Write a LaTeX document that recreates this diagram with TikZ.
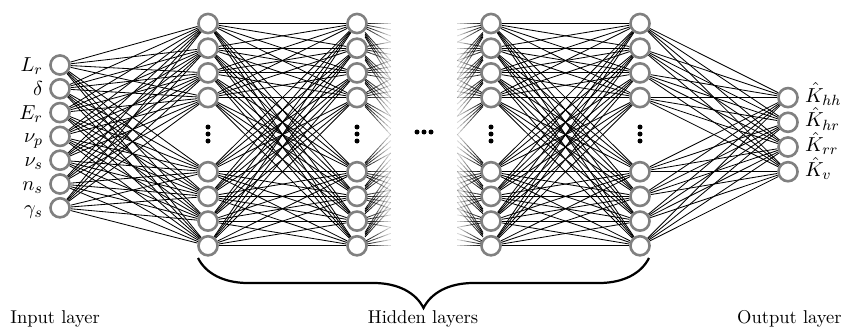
\documentclass[tikz,border=0pt]{standalone}
\usetikzlibrary{calc,backgrounds,decorations.pathreplacing}
\tikzset{
  neuron/.style={circle, draw=black!50, fill=white, line width=1.4pt, minimum size=10.3pt, inner sep=0pt},
  conn/.style={line width=0.45pt, draw=black},
  fadeconn/.style={line width=0.45pt, draw=black},
  lbl/.style={inner sep=0pt},
  mlbl/.style={inner sep=0pt, font=\fontsize{11}{12}\selectfont},
  bracestyle/.style={line width=1.2pt, decorate, decoration={brace, mirror, amplitude=27pt}},
}
\begin{document}
\begin{tikzpicture}[x=0.54pt,y=-0.54pt]
\useasboundingbox (0,0) rectangle (844,331);
% input layer
\foreach \i in {1,...,7} \node[neuron] (in\i) at (60,{65+23.8*(\i-1)}) {};
% hidden layers
\foreach \L/\x in {A/208,B/357,C/491,D/640} {
  \foreach \s in {0,1,2,3,6,7,8,9} \node[neuron] (\L\s) at (\x,{23.5+24.7*\s}) {};
  \foreach \d in {-7,0,7} \fill (\x,{134+\d}) circle (1.35pt);
}
% output layer
\foreach \o in {3,4,5,6} \node[neuron] (out\o) at (788,{23.5+24.7*\o}) {};
% middle dots
\foreach \x in {417,424,431} \fill (\x,132) circle (1.35pt);
% connections
\begin{scope}[on background layer]
\foreach \i in {1,...,7} \foreach \s in {0,1,2,3,6,7,8,9} \draw[conn] (in\i) -- (A\s);
\foreach \s in {0,1,2,3,6,7,8,9} \foreach \t in {0,1,2,3,6,7,8,9} {
  \draw[conn] (A\s) -- (B\t);
  \draw[conn] (C\s) -- (D\t);
}
\foreach \s in {0,1,2,3,6,7,8,9} \foreach \o in {3,4,5,6} \draw[conn] (D\s) -- (out\o);
\foreach \s in {0,1,2,3,6,7,8,9} \foreach \t in {0,1,2,3,6,7,8,9} \foreach \k in {0,...,7} {
  \pgfmathsetmacro\ta{0.06+0.024*\k}
  \pgfmathsetmacro\tb{0.06+0.024*(\k+1)}
  \pgfmathsetmacro\op{1-0.12*\k}
  \draw[fadeconn, draw opacity=\op] ($(B\s)!\ta!(C\t)$) -- ($(B\s)!\tb!(C\t)$);
  \draw[fadeconn, draw opacity=\op] ($(C\t)!\ta!(B\s)$) -- ($(C\t)!\tb!(B\s)$);
}
\end{scope}
% labels
\foreach \i/\lab in {1/L_r,2/\delta,3/E_r,4/\nu_p,5/\nu_s,6/n_s,7/\gamma_s}
  \node[mlbl, anchor=base east] (lin\i) at ([xshift=-3.2pt,yshift=-3.5pt]in\i.west) {$\lab$};
\foreach \o/\lab in {3/hh,4/hr,5/rr,6/v}
  \node[mlbl, anchor=base west] (lout\o) at ([xshift=3.2pt,yshift=-2.4pt]out\o.east) {$\hat{K}_{\lab}$};
% brace
\coordinate (bl) at (198,258);
\coordinate (br) at (649,258);
\draw[bracestyle] (bl) -- (br);
% layer names
\node[lbl, anchor=base west] (tin) at (10,323) {Input layer};
\node[lbl, anchor=base] (thid) at (423,323) {Hidden layers};
\node[lbl, anchor=base east] (tout) at (842,323) {Output layer};
\end{tikzpicture}
\end{document}
